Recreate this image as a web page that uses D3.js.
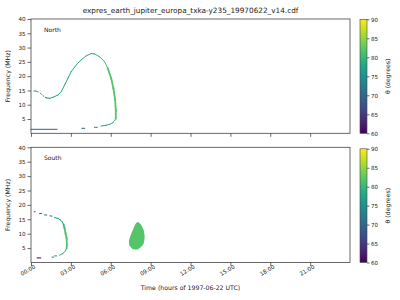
<!DOCTYPE html>
<html>
<head>
<meta charset="utf-8">
<script src="https://cdn.jsdelivr.net/npm/d3@7"></script>
<style>
  body { margin: 0; background: white; }
  text { font-family: "DejaVu Sans", sans-serif; fill: #222; }
</style>
</head>
<body>
<script>
// hour ticks along the time axis
const hourTicks = [0, 3, 6, 9, 12, 15, 18, 21];
const freqTicks = [5, 10, 15, 20, 25, 30, 35, 40];
const thetaTicks = [60, 65, 70, 75, 80, 85, 90];

// North emission (null = break between pieces)
const northTime  = [0.23, 0.38, null, 0.45, 0.52, null, 0.72, 0.78, null, 0.9, 0.95, null,
                    1.07, 1.15, 1.4, 1.65, 2.03, 2.28, 2.53, 2.78, 3.03, 3.4, 3.78, 4.15, 4.53, 4.78,
                    5.15, 5.53, 5.78, 6.03, 6.2, 6.33, 6.38, 6.38, 6.33, 6.15, 5.9, 5.65, 5.28, null,
                    4.78, 4.98, null, 3.83, 4.03, null, 0.0, 1.95];
const northFreq  = [14.8, 14.8, null, 14.6, 14.5, null, 13.9, 13.7, null, 13.2, 13.0, null,
                    12.6, 12.4, 12.25, 12.6, 13.4, 14.6, 16.9, 19.3, 21.6, 23.9, 25.7, 27.1, 27.9, 27.8,
                    26.8, 25.1, 22.7, 19.3, 15.7, 11.7, 8.0, 5.2, 4.7, 3.7, 3.1, 2.8, 2.55, null,
                    2.1, 2.1, null, 1.75, 1.75, null, 1.4, 1.4];
const northTheta = [74, 74, null, 74, 74, null, 75, 75, null, 75, 75, null,
                    76, 76, 77, 77, 78, 78, 78, 78, 78, 79, 79, 79, 79, 79,
                    80, 81, 81, 82, 82, 82, 82, 82, 81, 80, 79, 78, 77, null,
                    72, 72, null, 69, 69, null, 69, 69];

// South emission
const southTime  = [0.25, 0.3, null, 0.65, 0.78, null, 1.03, 1.18, null, 1.43, 1.58, null,
                    1.78, 2.03, 2.23, 2.35, 2.45, 2.53, 2.6, 2.68, 2.7, 2.68, 2.58, 2.4, 2.15, null,
                    1.78, 1.93, null, 1.58, 1.7, null, 0.47, 0.73];
const southFreq  = [17.6, 17.6, null, 17.0, 17.0, null, 16.5, 16.5, null, 16.2, 16.1, null,
                    15.6, 15.3, 14.7, 14.1, 13.2, 11.8, 10.1, 8.4, 6.0, 4.9, 3.95, 3.15, 2.55, null,
                    2.3, 2.3, null, 1.87, 1.87, null, 1.6, 1.6];
const southTheta = [66, 66, null, 67, 67, null, 70, 70, null, 73, 73, null,
                    75, 77, 78, 78, 79, 81, 82, 82, 82, 82, 80, 78, 77, null,
                    75, 75, null, 73, 73, null, 60, 60];

// South blob outline
const blobTime = [8.05, 8.3, 8.48, 8.55, 8.48, 8.23, 7.98, 7.68, 7.43, 7.37, 7.5, 7.68, 7.85];
const blobFreq = [14.1, 12.96, 11.2, 8.9, 6.6, 5.2, 4.5, 4.6, 5.7, 7.5, 9.5, 11.5, 13.3];
const blobTheta = 82;

const width = 400, height = 300;
const left = 31, right = 350;
const panels = [
  { name: "North", top: 19, bottom: 133.3, time: northTime, freq: northFreq, theta: northTheta, labels: false },
  { name: "South", top: 147.3, bottom: 262.5, time: southTime, freq: southFreq, theta: southTheta, labels: true }
];

const svg = d3.select("body").append("svg")
  .attr("width", width)
  .attr("height", height);

const x = d3.scaleLinear().domain([0, 24]).range([left, right]);
const color = d3.scaleSequential(d3.interpolateViridis).domain([60, 90]);

// gradient for colorbars
const grad = svg.append("defs").append("linearGradient")
  .attr("id", "viridis")
  .attr("x1", 0).attr("y1", 1).attr("x2", 0).attr("y2", 0);
d3.range(0, 1.01, 0.1).forEach(t => {
  grad.append("stop").attr("offset", t).attr("stop-color", d3.interpolateViridis(t));
});

svg.append("text")
  .attr("x", (left + right) / 2)
  .attr("y", 13)
  .attr("text-anchor", "middle")
  .attr("font-size", 7.3)
  .text("expres_earth_jupiter_europa_txka-y235_19970622_v14.cdf");

panels.forEach((p, idx) => {
  const y = d3.scaleLinear().domain([0, 40]).range([p.bottom, p.top]);
  const g = svg.append("g");

  // emission segments
  for (let i = 0; i < p.time.length - 1; i++) {
    if (p.freq[i] == null || p.freq[i + 1] == null) continue;
    const x1 = x(p.time[i]), y1 = y(p.freq[i]);
    const x2 = x(p.time[i + 1]), y2 = y(p.freq[i + 1]);
    const len = Math.hypot(x2 - x1, y2 - y1) || 1;
    const steep = Math.abs(y2 - y1) / len > 0.93;
    g.append("line")
      .attr("x1", x1).attr("y1", y1)
      .attr("x2", x2).attr("y2", y2)
      .attr("stroke", color((p.theta[i] + p.theta[i + 1]) / 2))
      .attr("stroke-width", steep ? 1.8 : 1)
      .attr("stroke-linecap", "square");
  }

  if (idx === 1) {
    g.append("path")
      .datum(blobTime.map((t, i) => [t, blobFreq[i]]))
      .attr("fill", color(blobTheta))
      .attr("d", d3.line().x(d => x(d[0])).y(d => y(d[1])).curve(d3.curveCardinalClosed.tension(0.3)));
  }

  // frame
  svg.append("rect")
    .attr("x", left).attr("y", p.top)
    .attr("width", right - left).attr("height", p.bottom - p.top)
    .attr("fill", "none")
    .attr("stroke", "#444")
    .attr("stroke-width", 0.8);

  // y axis
  const ya = svg.append("g")
    .attr("transform", `translate(${left},0)`)
    .call(d3.axisLeft(y).tickValues(freqTicks).tickSize(3.5).tickPadding(2));
  ya.select(".domain").remove();
  ya.selectAll("line").attr("stroke", "#444").attr("stroke-width", 0.8);
  ya.selectAll("text").attr("font-size", 5.6).attr("font-family", "DejaVu Sans");

  // x axis
  const xa = svg.append("g")
    .attr("transform", `translate(0,${p.bottom})`)
    .call(d3.axisBottom(x).tickValues(hourTicks).tickSize(3.5)
      .tickFormat(p.labels ? (d => String(d).padStart(2, "0") + ":00") : ""));
  xa.select(".domain").remove();
  xa.selectAll("line").attr("stroke", "#444").attr("stroke-width", 0.8);
  xa.selectAll("text")
    .attr("font-size", 5.6)
    .attr("font-family", "DejaVu Sans")
    .attr("text-anchor", "end")
    .attr("dy", 0)
    .attr("y", 7)
    .attr("x", 1)
    .attr("transform", "rotate(-30)");

  svg.append("text")
    .attr("x", 44).attr("y", p.top + 13)
    .attr("font-size", 6)
    .text(p.name);

  svg.append("text")
    .attr("transform", `translate(10,${(p.top + p.bottom) / 2}) rotate(-90)`)
    .attr("text-anchor", "middle")
    .attr("font-size", 6.2)
    .text("Frequency (MHz)");

  // colorbar
  const cbTop = p.top + (idx === 1 ? 1.5 : 0.3);
  const cbBot = p.bottom;
  const cy = d3.scaleLinear().domain([60, 90]).range([cbBot, cbTop]);
  svg.append("rect")
    .attr("x", 360).attr("y", cbTop)
    .attr("width", 7).attr("height", cbBot - cbTop)
    .attr("fill", "url(#viridis)")
    .attr("stroke", "#444")
    .attr("stroke-width", 0.6);
  const ca = svg.append("g")
    .attr("transform", "translate(367,0)")
    .call(d3.axisRight(cy).tickValues(thetaTicks).tickSize(2.5).tickPadding(1.5));
  ca.select(".domain").remove();
  ca.selectAll("line").attr("stroke", "#444").attr("stroke-width", 0.8);
  ca.selectAll("text").attr("font-size", 5.6).attr("font-family", "DejaVu Sans");

  svg.append("text")
    .attr("transform", `translate(390,${(cbTop + cbBot) / 2}) rotate(-90)`)
    .attr("text-anchor", "middle")
    .attr("font-size", 6.2)
    .text("θ (degrees)");
});

svg.append("text")
  .attr("x", (left + right) / 2)
  .attr("y", 290)
  .attr("text-anchor", "middle")
  .attr("font-size", 6.2)
  .text("Time (hours of 1997-06-22 UTC)");
</script>
</body>
</html>
